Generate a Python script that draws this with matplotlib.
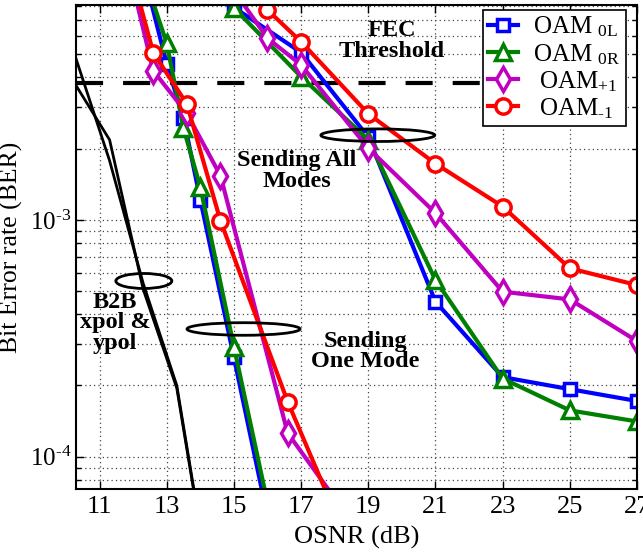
import numpy as np
import matplotlib
matplotlib.use("Agg")
import matplotlib.pyplot as plt
from matplotlib.patches import Ellipse
from matplotlib.ticker import FixedLocator, LogLocator, NullFormatter, FuncFormatter

plt.rcParams["font.family"] = ["Liberation Serif", "DejaVu Serif"]
plt.rcParams["mathtext.fontset"] = "custom"
plt.rcParams["mathtext.rm"] = "Liberation Serif"
plt.rcParams["mathtext.it"] = "Liberation Serif:italic"
plt.rcParams["mathtext.bf"] = "Liberation Serif:bold"

# OSNR (dB) and BER
# sending one mode
x_0l_one = [12.5, 13.0, 13.5, 14.0, 15.0, 16.0]
ber_0l_one = [8.7e-3, 4.57e-3, 2.69e-3, 1.22e-3, 2.63e-4, 5.6e-5]
x_0r_one = [12.5, 13.0, 13.5, 14.0, 15.0, 16.0]
ber_0r_one = [9.1e-3, 5.58e-3, 2.44e-3, 1.38e-3, 2.92e-4, 6.4e-5]
x_p1_one = [11.6, 12.6, 13.6, 14.6, 16.6, 18.6]
ber_p1_one = [1.66e-2, 4.27e-3, 2.82e-3, 1.54e-3, 1.26e-4, 5.1e-5]
x_m1_one = [11.6, 12.6, 13.6, 14.6, 16.6, 18.6]
ber_m1_one = [1.7e-2, 5.09e-3, 3.09e-3, 9.93e-4, 1.71e-4, 3.7e-5]

# sending all modes
x_0l_all = [15, 17, 19, 21, 23, 25, 27]
ber_0l_all = [7.9e-3, 5.1e-3, 2.24e-3, 4.52e-4, 2.17e-4, 1.93e-4, 1.72e-4]
x_0r_all = [15, 17, 19, 21, 23, 25, 27]
ber_0r_all = [7.87e-3, 4.03e-3, 2.18e-3, 5.58e-4, 2.14e-4, 1.57e-4, 1.41e-4]
x_p1_all = [15, 16, 17, 19, 21, 23, 25, 27]
ber_p1_all = [9.3e-3, 5.86e-3, 4.52e-3, 2.01e-3, 1.07e-3, 4.98e-4, 4.62e-4, 3.08e-4]
x_m1_all = [16, 17, 19, 21, 23, 25, 27]
ber_m1_all = [7.71e-3, 5.66e-3, 2.81e-3, 1.73e-3, 1.14e-3, 6.25e-4, 5.31e-4]

# back to back
x_b2b = [10.3, 11.3, 12.3, 13.3, 14.3]
ber_xpol = [4.8e-3, 1.78e-3, 5.4e-4, 2.0e-4, 2.75e-5]
ber_ypol = [3.7e-3, 2.18e-3, 5.1e-4, 1.95e-4, 2.7e-5]

fec = 3.8e-3
x_ticks = [11, 13, 15, 17, 19, 21, 23, 25, 27]

HY = "\u2010"  # short hyphen, as in the original labels

fig = plt.figure(figsize=(6.43, 5.55), dpi=100)
ax = fig.add_axes([76 / 643, 66 / 555, 561 / 643, 484 / 555])
ax.set_yscale("log")

styles = [
    ("OAM $_{\\mathrm{0L}}$", "#0000ff", "s", 9, x_0l_one, ber_0l_one, x_0l_all, ber_0l_all),
    ("OAM $_{\\mathrm{0R}}$", "#008000", "^", 11, x_0r_one, ber_0r_one, x_0r_all, ber_0r_all),
    (" OAM$_{+1}$", "#c000c0", "d", 12, x_p1_one, ber_p1_one, x_p1_all, ber_p1_all),
    (" OAM$_{\\mathrm{" + HY + "1}}$", "#ff0000", "o", 11, x_m1_one, ber_m1_one, x_m1_all, ber_m1_all),
]

ax.plot(x_b2b, ber_xpol, color="black", lw=2.0)
ax.plot(x_b2b, ber_ypol, color="black", lw=2.0)

for label, c, m, ms, x1, y1, x2, y2 in styles:
    kw = dict(color=c, lw=3, marker=m, ms=ms, mfc="white", mec=c, mew=2.5)
    ax.plot(x1, y1, label=label, **kw)
    ax.plot(x2, y2, **kw)

ax.axhline(fec, color="black", lw=3, dashes=(6.5, 4.8), zorder=1)

ax.set_xlim(10.3, 27)
ax.set_ylim(7.31e-5, 8.09e-3)
ax.xaxis.set_major_locator(FixedLocator(x_ticks))
ax.yaxis.set_major_locator(LogLocator(base=10))
ax.yaxis.set_major_formatter(
    FuncFormatter(lambda v, p: "10$^{\\mathrm{" + HY + "%d}}$" % round(-np.log10(v))))
ax.yaxis.set_minor_locator(LogLocator(base=10, subs=np.arange(2, 10)))
ax.yaxis.set_minor_formatter(NullFormatter())
ax.tick_params(which="both", direction="in", top=True, right=True, labelsize=19)
ax.tick_params(axis="y", labelsize=18)
ax.tick_params(axis="x", pad=5)
ax.tick_params(which="major", length=6, width=1)
ax.tick_params(which="minor", length=3.5, width=1)
ax.grid(True, which="major", axis="x", linestyle=(0, (1, 2.5)), color="#444444", lw=0.9)
ax.grid(True, which="both", axis="y", linestyle=(0, (1, 2.5)), color="#444444", lw=0.9)
ax.set_axisbelow(True)
for s in ax.spines.values():
    s.set_linewidth(1.5)

ax.set_xlabel("OSNR (dB)", fontsize=19, labelpad=6)
ax.set_ylabel("Bit Error rate (BER)", fontsize=18.5)
ax.yaxis.set_label_coords(-0.094, 0.5)

bold = dict(fontsize=17.5, fontweight="bold", ha="center", va="center",
            multialignment="center", linespacing=0.95, transform=ax.transAxes)
ax.text(0.5633, 0.9256, "FEC\nThreshold", **bold)
ax.text(0.3930, 0.6570, "Sending All\nModes", **bold)
ax.text(0.5152, 0.2841, "Sending\nOne Mode", **bold)
ax.text(0.0695, 0.3430, "B2B\nxpol &\nypol", **bold)

for cx, cy, w, h in [(0.538, 0.731, 0.203, 0.026), (0.2986, 0.3306, 0.2014, 0.026),
                     (0.1209, 0.4298, 0.0998, 0.031)]:
    ax.add_patch(Ellipse((cx, cy), w, h, transform=ax.transAxes, fill=False,
                         ec="black", lw=2, zorder=5))

leg = ax.legend(loc="upper right", bbox_to_anchor=(0.980, 0.99), borderaxespad=0,
                fontsize=18, handlelength=1.2, handletextpad=0.6, labelspacing=0.1,
                borderpad=0.2, fancybox=False, framealpha=1, edgecolor="black")
leg.get_frame().set_linewidth(1.2)

fig.savefig("out.png", dpi=100)
